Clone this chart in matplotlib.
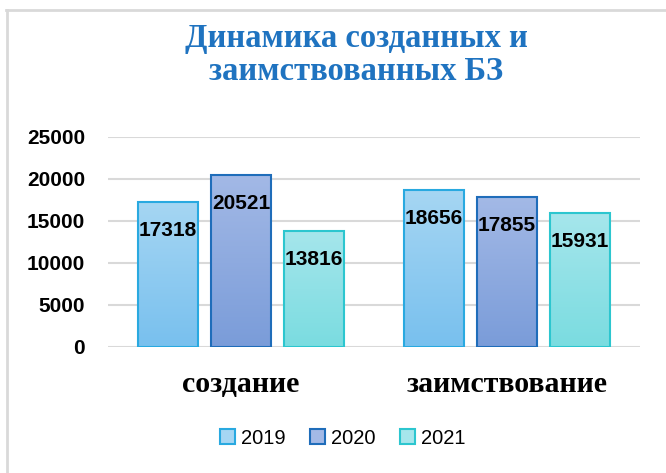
import numpy as np
import matplotlib.pyplot as plt
import matplotlib.colors as mcolors
from matplotlib.patches import Rectangle, Patch
from matplotlib.lines import Line2D

categories = ['создание', 'заимствование']
years = ['2019', '2020', '2021']
values_2019 = [17318, 18656]
values_2020 = [20521, 17855]
values_2021 = [13816, 15931]
series = [values_2019, values_2020, values_2021]

# (top colour, bottom colour, edge colour)
STYLES = [
    ('#A6D6F3', '#78C0EE', '#29A9E0'),
    ('#A3B9E6', '#7A9CD9', '#1F6DBA'),
    ('#A6E6EC', '#7ADCE0', '#2CC6CF'),
]

fig = plt.figure(figsize=(6.66, 4.73), dpi=100)

# chart frame (gray border at top/left)
fig.add_artist(Line2D([0.009, 1.0], [1 - 10 / 473, 1 - 10 / 473], color='#D9D9D9', lw=2))
fig.add_artist(Line2D([0.010, 0.010], [0.0, 1 - 10 / 473], color='#D9D9D9', lw=2))

ax = fig.add_axes([108 / 666, 1 - 347 / 473, 532 / 666, 210 / 473])

width = 0.225
step = 0.275
x = np.arange(len(categories))
grad = np.linspace(0, 1, 256).reshape(-1, 1)

for i, (vals, (top, bot, edge)) in enumerate(zip(series, STYLES)):
    cmap = mcolors.LinearSegmentedColormap.from_list(f'g{i}', [bot, top])
    for xc, v in zip(x + (i - 1) * step, vals):
        x0 = xc - width / 2
        im = ax.imshow(grad, cmap=cmap, aspect='auto', origin='lower',
                       extent=(x0, x0 + width, 0, v), zorder=2)
        rect = Rectangle((x0, 0), width, v, facecolor='none', edgecolor=edge,
                         lw=1.5, zorder=3)
        ax.add_patch(rect)
        im.set_clip_path(rect)
        ax.text(xc, v - 3400, str(v), ha='center', va='center', fontsize=15,
                fontweight='bold', color='black', zorder=4,
                family='Liberation Sans')

ax.set_xlim(-0.5, 1.5)
ax.set_ylim(0, 25000)
ax.set_yticks(range(0, 25001, 5000))
ax.yaxis.grid(True, color='#D9D9D9', lw=1.5, zorder=0)
ax.set_axisbelow(True)
for s in ax.spines.values():
    s.set_visible(False)
ax.tick_params(axis='y', length=0, pad=16.5, labelsize=15)
for lbl in ax.get_yticklabels():
    lbl.set_fontweight('bold')
    lbl.set_family('Liberation Sans')
ax.set_xticks(x)
ax.set_xticklabels(categories, fontsize=21.5, fontweight='bold', family='Liberation Serif')
ax.tick_params(axis='x', length=0, pad=17)

fig.text(0.535, 1 - 55 / 473, 'Динамика созданных и\nзаимствованных БЗ', ha='center',
         va='center', fontsize=23.5, fontweight='bold', color='#1F73C0',
         family='Liberation Serif', linespacing=1.1)

handles = [Patch(facecolor=st[0], edgecolor=st[2], lw=1.5) for st in STYLES]
fig.legend(handles, years, loc='center', bbox_to_anchor=(0.515, 1 - 438 / 473),
           ncol=3, frameon=False, handlelength=0.75, handleheight=0.75,
           handletextpad=0.3, columnspacing=1.2,
           prop={'family': 'Liberation Sans', 'size': 14.5})

fig.savefig('out.png', dpi=100)
